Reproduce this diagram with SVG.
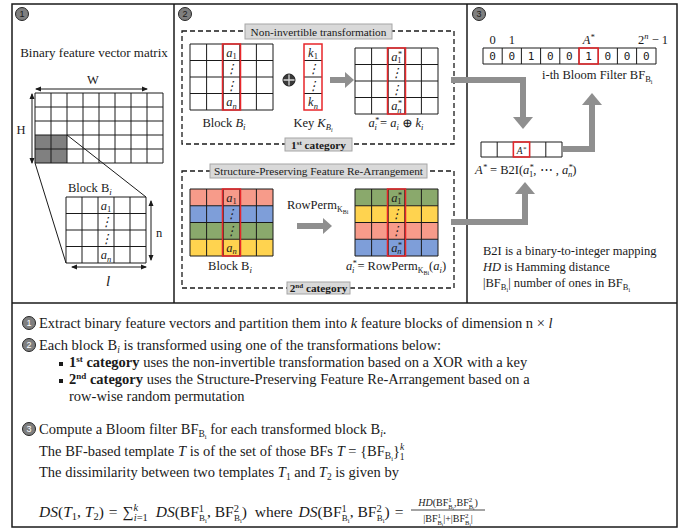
<svg xmlns="http://www.w3.org/2000/svg" width="694" height="529" viewBox="0 0 694 529">
<defs>
<style>
text{font-family:"Liberation Serif","DejaVu Serif",serif;fill:#1a1a1a}
.t13{font-size:13px}
.lbl{font-size:12.5px}
.bt{font-size:14.5px}
.fm{font-size:15.5px}
.cell{font-size:12.5px;font-style:italic;text-anchor:middle}
.mid{text-anchor:middle}
.grid{fill:none;stroke:#1a1a1a;stroke-width:1}
.red{fill:none;stroke:#e8262a;stroke-width:1.5}
.frame{fill:none;stroke:#1a1a1a;stroke-width:1.5}
.dash{fill:none;stroke:#1a1a1a;stroke-width:1.3;stroke-dasharray:5 3}
.tag{fill:#d9d9d9;stroke:#a6a6a6;stroke-width:1}
.tagt{font-size:11.3px;text-anchor:middle}
.num{fill:#7f7f7f;stroke:#262626;stroke-width:1}
.numt{font-size:9px;text-anchor:middle;font-family:"Liberation Sans",sans-serif}
.numw{font-size:9px;text-anchor:middle;font-family:"Liberation Sans",sans-serif;fill:#ffffff}
.conn{fill:none;stroke:#8f8f8f;stroke-width:6}
.dim{fill:none;stroke:#1a1a1a;stroke-width:1}
.it{font-style:italic}
.b{font-weight:bold}
.sal{fill:#f79b8a}.blu{fill:#7e9ed9}.grn{fill:#8aa96c}.yel{fill:#ffd34f}
.bit{font-family:"DejaVu Sans Mono","Liberation Mono",monospace;font-size:11px;text-anchor:middle}
</style>
<marker id="gh" viewBox="0 0 12 20" refX="0" refY="10" markerWidth="12" markerHeight="20" markerUnits="userSpaceOnUse" orient="auto">
<polygon points="0,0 12,10 0,20" fill="#8f8f8f"/>
</marker>
<marker id="gs" viewBox="0 0 9 16" refX="0" refY="8" markerWidth="9" markerHeight="16" markerUnits="userSpaceOnUse" orient="auto">
<polygon points="0,0 9,8 0,16" fill="#8f8f8f"/>
</marker>
<marker id="da" viewBox="0 0 6 6" refX="5" refY="3" markerWidth="6" markerHeight="6" markerUnits="userSpaceOnUse" orient="auto-start-reverse">
<path d="M0,0.5 L6,3 L0,5.5" fill="#1a1a1a"/>
</marker>
</defs>

<g id="frame">
<rect class="frame" x="12" y="4" width="665" height="523"/>
<line class="frame" x1="12" y1="303" x2="677" y2="303"/>
<line class="frame" x1="174" y1="4" x2="174" y2="303"/>
<line class="frame" x1="467" y1="4" x2="467" y2="303"/>
<circle class="num" cx="22" cy="14" r="6.5"/><text class="numt" x="22" y="17.2">1</text>
<circle class="num" cx="185" cy="14" r="6.5"/><text class="numt" x="185" y="17.2">2</text>
<circle class="num" cx="479" cy="14" r="6.5"/><text class="numt" x="479" y="17.2">3</text>
</g>

<g id="panel1">
<text class="t13 mid" x="94" y="57">Binary feature vector matrix</text>
<text class="lbl mid" x="93" y="84">W</text>
<line class="dim" x1="36" y1="89" x2="147" y2="89" marker-start="url(#da)" marker-end="url(#da)"/>
<text class="lbl mid" x="21" y="134">H</text>
<line class="dim" x1="32" y1="94" x2="32" y2="163" marker-start="url(#da)" marker-end="url(#da)"/>
<rect x="35" y="135" width="32" height="28" fill="#808080"/>
<path class="grid" d="M35,93H163M35,107H163M35,121H163M35,135H163M35,149H163M35,163H163M35,93V163M51,93V163M67,93V163M83,93V163M99,93V163M115,93V163M131,93V163M147,93V163M163,93V163"/>
<path class="grid" d="M67,135L146,197M35,163L66,263"/>
<text class="lbl" x="68" y="192">Block B<tspan font-size="9" class="it" dy="3">i</tspan></text>
<path class="grid" d="M66,197H146M66,213.5H146M66,230H146M66,246.5H146M66,263H146M66,197V263M82,197V263M98,197V263M114,197V263M130,197V263M146,197V263"/>
<text class="cell" x="106" y="209.5">a<tspan font-size="8.5" font-style="normal" dy="2.5">1</tspan></text>
<text class="cell" x="106" y="226">⋮</text>
<text class="cell" x="106" y="242.5">⋮</text>
<text class="cell" x="106" y="259">a<tspan font-size="8.5" dy="2.5">n</tspan></text>
<line class="dim" x1="151" y1="201" x2="151" y2="260" marker-start="url(#da)" marker-end="url(#da)"/>
<text class="lbl mid" x="159" y="237">n</text>
<line class="dim" x1="72" y1="267" x2="146" y2="267" marker-start="url(#da)" marker-end="url(#da)"/>
<text class="it mid" font-size="15" x="108" y="286">l</text>
</g>

<g id="cat1">
<rect class="dash" x="182" y="31" width="272" height="113"/>
<rect class="tag" x="245" y="24" width="147" height="15"/>
<text class="tagt" x="318.5" y="35.5">Non-invertible transformation</text>
<rect class="tag" x="285" y="138" width="67" height="13"/>
<text class="tagt b" font-size="11" x="318.5" y="148.5">1<tspan font-size="7" dy="-4">st</tspan><tspan dy="4"> category</tspan></text>
</g>

<g id="block1">
<path class="grid" d="M190,44H273M190,60.5H273M190,77H273M190,93.5H273M190,110H273M190,44V110M206.6,44V110M223.2,44V110M239.8,44V110M256.4,44V110M273,44V110"/>
<rect class="red" x="222.5" y="44" width="18" height="66"/>
<text class="cell" x="231.5" y="56.5">a<tspan font-size="8.5" font-style="normal" dy="2.5">1</tspan></text>
<text class="cell" x="231.5" y="73">⋮</text>
<text class="cell" x="231.5" y="89.5">⋮</text>
<text class="cell" x="231.5" y="106">a<tspan font-size="8.5" dy="2.5">n</tspan></text>
<text class="lbl mid" x="224" y="127">Block <tspan class="it">B</tspan><tspan class="it" font-size="9" dy="3">i</tspan></text>
</g>

<g id="xor">
<circle cx="289" cy="80" r="6" fill="#3a3a3a" stroke="#1a1a1a"/>
<path d="M283.5,80H294.5M289,74.5V85.5" stroke="#d8d8d8" stroke-width="1.3"/>
</g>

<g id="key">
<path class="grid" d="M304,60.5H322M304,77H322M304,93.5H322"/>
<rect class="red" x="304" y="44" width="18" height="66"/>
<text class="cell" x="313" y="56.5">k<tspan font-size="8.5" font-style="normal" dy="2.5">1</tspan></text>
<text class="cell" x="313" y="73">⋮</text>
<text class="cell" x="313" y="89.5">⋮</text>
<text class="cell" x="313" y="106">k<tspan font-size="8.5" dy="2.5">n</tspan></text>
<text class="lbl mid" x="313" y="127">Key <tspan class="it">K</tspan><tspan class="it" font-size="8.5" dy="3">B</tspan><tspan class="it" font-size="6" dy="1.5">i</tspan></text>
</g>

<g id="block1t">
<path class="grid" d="M355,48H438M355,64.5H438M355,81H438M355,97.5H438M355,114H438M355,48V114M371.6,48V114M388.2,48V114M404.8,48V114M421.4,48V114M438,48V114"/>
<rect class="red" x="387.5" y="48" width="18" height="66"/>
<text class="cell" x="396.5" y="60.5">a<tspan font-size="8.5" dy="-4">*</tspan><tspan font-size="8.5" font-style="normal" dx="-4.5" dy="6.5">1</tspan></text>
<text class="cell" x="396.5" y="77">⋮</text>
<text class="cell" x="396.5" y="93.5">⋮</text>
<text class="cell" x="396.5" y="110">a<tspan font-size="8.5" dy="-4">*</tspan><tspan font-size="8.5" dx="-4.5" dy="6.5">n</tspan></text>
<text class="lbl mid it" x="396" y="127">a<tspan font-size="8.5" dy="-4">*</tspan><tspan font-size="8.5" dx="-4.5" dy="6.5">i</tspan><tspan font-style="normal" dy="-2.5"> = </tspan>a<tspan font-size="8.5" dy="2.5">i</tspan><tspan font-style="normal" dy="-2.5"> ⊕ </tspan>k<tspan font-size="8.5" dy="2.5">i</tspan></text>
</g>

<g id="cat2">
<rect class="dash" x="182" y="171" width="272" height="117"/>
<rect class="tag" x="210" y="164" width="217" height="14"/>
<text class="tagt" x="318.5" y="175">Structure-Preserving Feature Re-Arrangement</text>
<rect class="tag" x="287" y="282" width="63" height="12"/>
<text class="tagt b" font-size="11" x="318.5" y="292">2<tspan font-size="7" dy="-4">nd</tspan><tspan dy="4"> category</tspan></text>
</g>

<g id="block2">
<rect class="sal" x="190" y="189" width="83" height="16.75"/>
<rect class="blu" x="190" y="205.75" width="83" height="16.75"/>
<rect class="grn" x="190" y="222.5" width="83" height="16.75"/>
<rect class="yel" x="190" y="239.25" width="83" height="16.75"/>
<path class="grid" d="M190,189H273M190,205.75H273M190,222.5H273M190,239.25H273M190,256H273M190,189V256M206.6,189V256M223.2,189V256M239.8,189V256M256.4,189V256M273,189V256"/>
<rect class="red" x="222.5" y="189" width="18" height="67"/>
<text class="cell" x="231.5" y="201.5">a<tspan font-size="8.5" font-style="normal" dy="2.5">1</tspan></text>
<text class="cell" x="231.5" y="218">⋮</text>
<text class="cell" x="231.5" y="235">⋮</text>
<text class="cell" x="231.5" y="251.5">a<tspan font-size="8.5" dy="2.5">n</tspan></text>
<text class="lbl mid" x="230" y="270">Block B<tspan class="it" font-size="9" dy="3">i</tspan></text>
<text class="lbl" x="287" y="209">RowPerm<tspan font-size="8" dy="3">K</tspan><tspan font-size="6" dy="1.5">Bi</tspan></text>
</g>

<g id="block2t">
<rect class="grn" x="355" y="189" width="83" height="16.75"/>
<rect class="yel" x="355" y="205.75" width="83" height="16.75"/>
<rect class="sal" x="355" y="222.5" width="83" height="16.75"/>
<rect class="blu" x="355" y="239.25" width="83" height="16.75"/>
<path class="grid" d="M355,189H438M355,205.75H438M355,222.5H438M355,239.25H438M355,256H438M355,189V256M371.6,189V256M388.2,189V256M404.8,189V256M421.4,189V256M438,189V256"/>
<rect class="red" x="387.5" y="189" width="18" height="67"/>
<text class="cell" x="396.5" y="201.5">a<tspan font-size="8.5" dy="-4">*</tspan><tspan font-size="8.5" font-style="normal" dx="-4.5" dy="6.5">1</tspan></text>
<text class="cell" x="396.5" y="218">⋮</text>
<text class="cell" x="396.5" y="235">⋮</text>
<text class="cell" x="396.5" y="251.5">a<tspan font-size="8.5" dy="-4">*</tspan><tspan font-size="8.5" dx="-4.5" dy="6.5">n</tspan></text>
<text class="lbl mid" x="396" y="270"><tspan class="it">a</tspan><tspan class="it" font-size="8.5" dy="-4">*</tspan><tspan class="it" font-size="8.5" dx="-4.5" dy="6.5">i</tspan><tspan dy="-2.5"> = RowPerm</tspan><tspan font-size="8" dy="3">K</tspan><tspan font-size="6" dy="1.5">Bi</tspan><tspan dy="-4.5">(</tspan><tspan class="it">a</tspan><tspan class="it" font-size="8.5" dy="2.5">i</tspan><tspan dy="-2.5">)</tspan></text>
</g>

<g id="bloom">
<text class="lbl mid" x="492.6" y="44">0</text>
<text class="lbl mid" x="511.8" y="44">1</text>
<text class="lbl mid it" x="588.6" y="44">A<tspan font-size="8.5" dy="-4">*</tspan></text>
<text class="lbl" x="638" y="44">2<tspan class="it" font-size="8.5" dy="-5">n</tspan><tspan dy="5"> − 1</tspan></text>
<path class="grid" d="M483,48H656M483,64H656M483,48V64M502.2,48V64M521.4,48V64M540.6,48V64M559.8,48V64M579,48V64M598.2,48V64M617.4,48V64M636.6,48V64M656,48V64"/>
<rect class="red" x="579" y="48" width="19.2" height="16"/>
<text class="bit" x="492.6" y="60">0</text>
<text class="bit" x="511.8" y="60">0</text>
<text class="bit" x="531" y="60">1</text>
<text class="bit" x="550.2" y="60">0</text>
<text class="bit" x="569.4" y="60">0</text>
<text class="bit" x="588.6" y="60">1</text>
<text class="bit" x="607.8" y="60">0</text>
<text class="bit" x="627" y="60">0</text>
<text class="bit" x="646.2" y="60">0</text>
<text class="lbl" x="542" y="79">i-th Bloom Filter BF<tspan font-size="8.5" dy="3">B</tspan><tspan font-size="6" dy="1.5">i</tspan></text>
</g>

<g id="b2i">
<path class="grid" d="M481,142H562M481,157H562M481,142V157M497.2,142V157M513.4,142V157M529.6,142V157M545.8,142V157M562,142V157"/>
<rect class="red" x="513.4" y="142" width="16.2" height="15"/>
<text class="it mid" font-size="9.5" x="521.5" y="153.5">A<tspan font-size="7" dy="-3">*</tspan></text>
<text class="lbl" x="475" y="174"><tspan class="it">A</tspan><tspan class="it" font-size="8.5" dy="-4">*</tspan><tspan dy="4"> = B2I(</tspan><tspan class="it">a</tspan><tspan class="it" font-size="8.5" dy="-4">*</tspan><tspan font-size="8.5" dx="-4.5" dy="6.5">1</tspan><tspan dy="-2.5">, ⋯ , </tspan><tspan class="it">a</tspan><tspan class="it" font-size="8.5" dy="-4">*</tspan><tspan class="it" font-size="8.5" dx="-4.5" dy="6.5">n</tspan><tspan dy="-2.5">)</tspan></text>
</g>

<g id="legend">
<text class="lbl" font-size="12.7" x="483" y="255">B2I is a binary-to-integer mapping</text>
<text class="lbl" font-size="12.7" x="483" y="271"><tspan class="it">HD</tspan> is Hamming distance</text>
<text class="lbl" font-size="12.7" x="483" y="287">|BF<tspan font-size="8.5" dy="3">B</tspan><tspan font-size="6" dy="1.5">i</tspan><tspan dy="-4.5">| number of ones in BF</tspan><tspan font-size="8.5" dy="3">B</tspan><tspan font-size="6" dy="1.5">i</tspan></text>
</g>

<g id="connectors">
<path class="conn" d="M330,80H345" marker-end="url(#gs)"/>
<path class="conn" d="M297,226H323" marker-end="url(#gs)"/>
<path class="conn" d="M451,80H523V117" marker-end="url(#gh)"/>
<path class="conn" d="M451,222H525V194" marker-end="url(#gh)"/>
<path class="conn" d="M563,149H592V105" marker-end="url(#gh)"/>
</g>

<g id="description">
<circle class="num" cx="29" cy="323" r="6.5"/><text class="numw" x="29" y="326.2">1</text>
<text class="bt" x="39" y="328">Extract binary feature vectors and partition them into <tspan class="it">k</tspan> feature blocks of dimension n × <tspan class="it">l</tspan></text>
<circle class="num" cx="29" cy="345" r="6.5"/><text class="numw" x="29" y="348.2">2</text>
<text class="bt" x="39" y="350">Each block B<tspan class="it" font-size="9.5" dy="3">i</tspan><tspan dy="-3"> is transformed using one of the transformations below:</tspan></text>
<rect x="59" y="362" width="4" height="4" fill="#1a1a1a"/>
<text class="bt" x="69" y="367"><tspan class="b">1</tspan><tspan class="b" font-size="9" dy="-5">st</tspan><tspan class="b" dy="5"> category</tspan> uses the non-invertible transformation based on a XOR with a key</text>
<rect x="59" y="379" width="4" height="4" fill="#1a1a1a"/>
<text class="bt" x="69" y="384"><tspan class="b">2</tspan><tspan class="b" font-size="9" dy="-5">nd</tspan><tspan class="b" dy="5"> category</tspan> uses the Structure-Preserving Feature Re-Arrangement based on a</text>
<text class="bt" x="69" y="401">row-wise random permutation</text>
<circle class="num" cx="29" cy="429" r="6.5"/><text class="numw" x="29" y="432.2">3</text>
<text class="bt" x="39" y="434">Compute a Bloom filter BF<tspan font-size="9.5" dy="3">B</tspan><tspan font-size="6.5" dy="1.5">i</tspan><tspan dy="-4.5"> for each transformed block B</tspan><tspan class="it" font-size="9.5" dy="3">i</tspan><tspan dy="-3">.</tspan></text>
<text class="bt" x="39" y="456">The BF-based template <tspan class="it">T</tspan> is of the set of those BFs <tspan class="it">T</tspan> = {BF<tspan font-size="9.5" dy="3">B</tspan><tspan font-size="6.5" dy="1.5">i</tspan><tspan dy="-4.5">}</tspan><tspan class="it" font-size="9.5" dy="-6">k</tspan><tspan font-size="9.5" dx="-4.5" dy="10">1</tspan></text>
<text class="bt" x="39" y="477">The dissimilarity between two templates <tspan class="it">T</tspan><tspan font-size="9.5" dy="3">1</tspan><tspan dy="-3"> and </tspan><tspan class="it">T</tspan><tspan font-size="9.5" dy="3">2</tspan><tspan dy="-3"> is given by</tspan></text>
<text class="fm" x="39" y="517"><tspan class="it">DS</tspan>(<tspan class="it">T</tspan><tspan font-size="10.5" dy="3">1</tspan><tspan dy="-3">, </tspan><tspan class="it">T</tspan><tspan font-size="10.5" dy="3">2</tspan><tspan dy="-3">)</tspan><tspan dx="5">=</tspan><tspan dx="5">∑</tspan><tspan class="it" font-size="10.5" dy="-6">k</tspan><tspan class="it" font-size="10.5" dx="-4.5" dy="10">i</tspan><tspan font-size="10.5">=1</tspan><tspan dy="-4" dx="4"> </tspan><tspan class="it">DS</tspan>(BF<tspan font-size="10.5" dy="-5">1</tspan><tspan font-size="9" dx="-5" dy="9">B</tspan><tspan font-size="6.5" dy="1.5">i</tspan><tspan dy="-5.5">, BF</tspan><tspan font-size="10.5" dy="-5">2</tspan><tspan font-size="9" dx="-5" dy="9">B</tspan><tspan font-size="6.5" dy="1.5">i</tspan><tspan dy="-5.5">)</tspan><tspan dx="4"> where </tspan><tspan class="it" dx="2">DS</tspan>(BF<tspan font-size="10.5" dy="-5">1</tspan><tspan font-size="9" dx="-5" dy="9">B</tspan><tspan font-size="6.5" dy="1.5">i</tspan><tspan dy="-5.5">, BF</tspan><tspan font-size="10.5" dy="-5">2</tspan><tspan font-size="9" dx="-5" dy="9">B</tspan><tspan font-size="6.5" dy="1.5">i</tspan><tspan dy="-5.5">)</tspan><tspan dx="5">=</tspan></text>
<text font-size="10" class="mid" x="448" y="506"><tspan class="it">HD</tspan>(BF<tspan font-size="7" dy="-4">1</tspan><tspan font-size="6.5" dx="-3.5" dy="7">B</tspan><tspan font-size="5" dy="1">i</tspan><tspan dy="-4">,BF</tspan><tspan font-size="7" dy="-4">2</tspan><tspan font-size="6.5" dx="-3.5" dy="7">B</tspan><tspan font-size="5" dy="1">i</tspan><tspan dy="-4">)</tspan></text>
<line x1="411" y1="510" x2="485" y2="510" stroke="#1a1a1a" stroke-width="0.8"/>
<text font-size="10" class="mid" x="448" y="522">|BF<tspan font-size="7" dy="-4">1</tspan><tspan font-size="6.5" dx="-3.5" dy="7">B</tspan><tspan font-size="5" dy="1">i</tspan><tspan dy="-4">|+|BF</tspan><tspan font-size="7" dy="-4">2</tspan><tspan font-size="6.5" dx="-3.5" dy="7">B</tspan><tspan font-size="5" dy="1">i</tspan><tspan dy="-4">|</tspan></text>
</g>
</svg>
